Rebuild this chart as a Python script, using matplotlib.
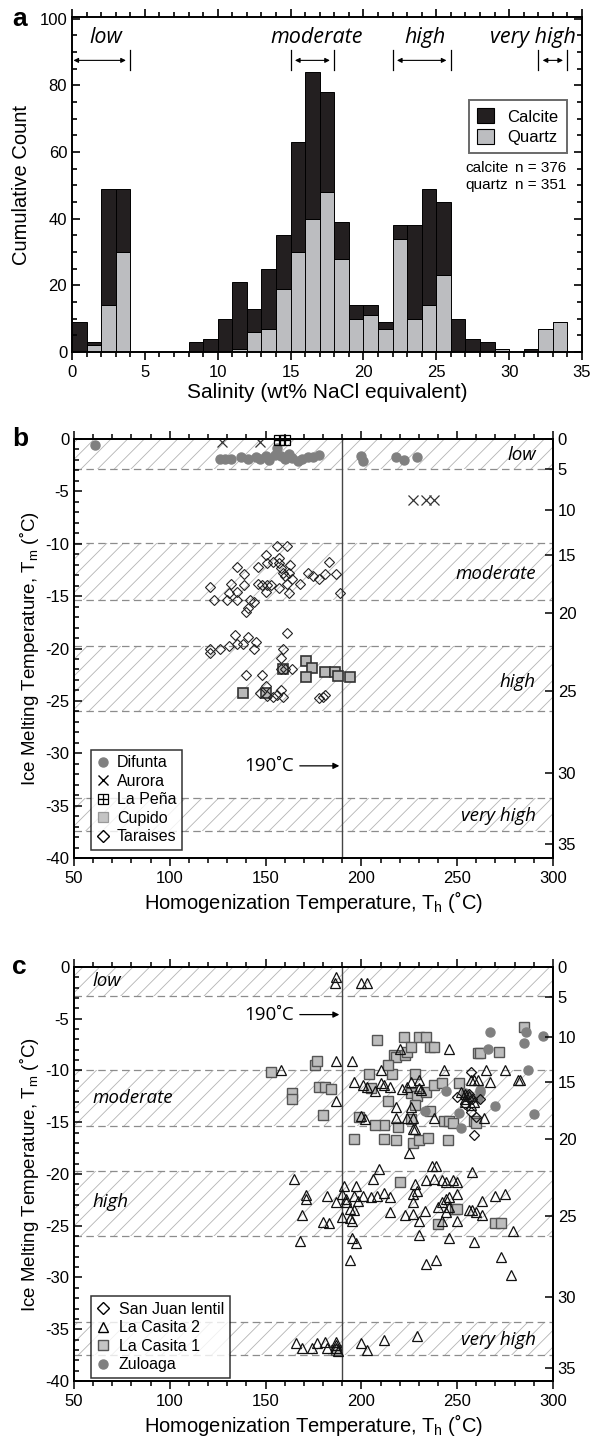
import numpy as np
import matplotlib
matplotlib.use("Agg")
import matplotlib.pyplot as plt
from matplotlib.patches import Patch
from matplotlib.lines import Line2D
from matplotlib.ticker import MultipleLocator

plt.rcParams['font.family'] = ['Liberation Sans', 'DejaVu Sans']
plt.rcParams['mathtext.fontset'] = 'custom'
plt.rcParams['mathtext.rm'] = 'Liberation Sans'
plt.rcParams['axes.unicode_minus'] = False
plt.rcParams['hatch.linewidth'] = 0.6

# ---- panel a: salinity histogram (1 wt% bins) ----
bin_left = np.arange(0, 34)
quartz = [0, 2, 14, 30, 0, 0, 0, 0, 0, 0, 0, 1, 6, 7, 19, 30, 40, 48, 28, 10,
          11, 7, 34, 10, 14, 23, 0, 0, 0, 1, 0, 0, 7, 9]
calcite = [9, 1, 35, 19, 0, 0, 0, 0, 3, 4, 10, 20, 7, 18, 16, 33, 44, 30, 11, 4,
           3, 2, 4, 28, 35, 22, 10, 4, 3, 0, 0, 1, 0, 0]
sal_classes = ['low', 'moderate', 'high', 'very high']
sal_ranges = [(0, 4), (15, 18), (22, 26), (32, 34)]

# ---- panel b: Th / Tm ----
difunta_th = [61, 126, 129, 132, 137, 141, 145, 147, 150, 152, 155, 156, 158, 160,
              162, 164, 167, 169, 172, 175, 178, 200, 201, 218, 222, 229]
difunta_tm = [-0.55, -1.9, -1.9, -1.9, -1.7, -1.9, -1.7, -1.9, -1.6, -2.0, -1.5, -0.9,
              -1.6, -1.9, -1.4, -1.8, -2.1, -1.9, -1.7, -1.7, -1.5, -1.65, -2.1, -1.7,
              -2.0, -1.7]
aurora_th = [127, 147, 227, 234, 238]
aurora_tm = [-0.3, -0.3, -5.86, -5.86, -5.86]
lapena_th = [157, 160]
lapena_tm = [-0.1, -0.1]
cupido_th = [138, 150, 159, 171, 174, 171, 181, 186, 188, 194]
cupido_tm = [-24.2, -24.2, -22.0, -21.2, -21.9, -22.7, -22.2, -22.2, -22.6, -22.7]
taraises_th = [156, 161, 150, 157, 146, 135, 139, 151, 154, 157, 158, 159, 160, 162,
               164, 161, 163, 172, 175, 178, 181, 183, 187, 189, 168, 146, 148, 151,
               153, 150, 132, 139, 135, 121, 123, 130, 131, 135, 142, 144, 140, 141,
               162, 157, 161, 134, 141, 135, 138, 131, 145, 144, 126, 121, 121, 159,
               158, 140, 148, 158, 160, 164, 147, 151, 154, 156, 159, 158, 178, 181,
               180, 150]
taraises_tm = [-10.2, -10.2, -11.05, -11.4, -12.2, -12.2, -12.9, -11.8, -11.7, -11.8,
               -12.3, -12.8, -13.1, -12.8, -13.4, -13.8, -12.0, -12.8, -13.1, -13.4,
               -12.9, -11.7, -12.9, -14.7, -13.8, -13.8, -13.9, -13.9, -13.9, -14.6,
               -13.8, -13.9, -14.6, -14.1, -15.4, -15.4, -14.7, -15.4, -15.4, -15.6,
               -16.5, -16.1, -14.7, -14.2, -18.5, -18.7, -18.9, -19.6, -19.6, -19.8,
               -19.4, -20.0, -20.0, -20.0, -20.4, -20.0, -20.9, -22.5, -22.5, -22.0,
               -22.0, -22.0, -24.2, -24.5, -24.6, -24.4, -24.6, -24.0, -24.7, -24.4,
               -24.6, -23.6]

# ---- panel c ----
casita2_th = [187, 186, 200, 203, 158, 187, 195, 187, 220, 246, 210, 230, 243, 265, 275,
              196, 201, 203, 207, 210, 212, 215, 221, 224, 230, 231, 226, 257, 259, 261,
              267, 282, 283, 252, 254, 254, 256, 259, 254, 257, 218, 226, 218, 227, 224,
              200, 202, 238, 264, 227, 228, 225, 237, 239, 209, 258,
              165, 191, 197, 206, 234, 238, 242, 244, 248, 250, 228, 229, 227, 171, 171,
              182, 190, 192, 196, 198, 201, 205, 208, 212, 215, 244, 242, 246, 250, 270,
              275, 263, 187, 192, 227, 240, 246, 194, 196, 215, 223, 227, 233, 244, 256,
              258, 260, 263, 169, 190, 194, 195, 230, 242, 250, 180, 183, 279, 230, 246,
              195, 197, 168, 259, 194, 239, 273, 234, 278,
              166, 169, 174, 177, 181, 182, 187, 187, 187, 188, 200, 203, 212, 229]
casita2_tm = [-1.0, -1.5, -1.5, -1.5, -10.0, -9.1, -9.1, -12.9, -7.9, -7.9, -10.0, -10.9,
              -10.0, -10.0, -10.0, -11.1, -11.4, -11.6, -12.0, -11.2, -11.4, -11.6, -11.8,
              -11.6, -11.7, -11.9, -11.1, -10.9, -10.9, -10.9, -11.1, -10.9, -10.9, -12.1,
              -12.3, -12.8, -12.5, -13.0, -13.0, -13.3, -13.5, -13.5, -14.6, -14.6, -14.6,
              -14.4, -14.7, -14.6, -14.6, -15.7, -15.7, -18.0, -19.2, -19.2, -19.5, -19.8,
              -20.5, -21.2, -21.2, -20.5, -20.6, -20.5, -20.6, -20.8, -20.6, -20.8, -21.0,
              -21.6, -21.9, -22.0, -22.4, -22.1, -21.9, -22.4, -22.1, -22.6, -22.1, -22.2,
              -22.1, -21.8, -22.2, -22.4, -22.7, -22.2, -21.9, -22.1, -21.9, -22.6, -22.7,
              -22.7, -22.7, -23.2, -23.2, -23.4, -23.5, -23.7, -24.0, -23.9, -23.6, -23.7,
              -23.5, -23.5, -23.7, -24.0, -24.0, -24.2, -24.3, -24.5, -24.5, -24.5, -24.5,
              -24.6, -24.7, -25.5, -25.9, -26.2, -26.2, -26.7, -26.5, -26.6, -28.3, -28.3,
              -28.0, -28.7, -29.8,
              -36.3, -36.8, -36.8, -36.3, -36.2, -36.8, -36.2, -36.5, -36.8, -37.1, -36.3,
              -37.0, -36.0, -35.7]
casita1_th = [153, 164, 164, 176, 177, 178, 181, 184, 180, 196, 199, 204, 205, 208, 214,
              212, 207, 216, 217, 218, 214, 219, 212, 218, 222, 223, 224, 226, 226, 228,
              229, 230, 234, 236, 238, 234, 228, 226, 227, 230, 235, 236, 238, 242, 243,
              245, 246, 248, 251, 261, 262, 272, 285, 259, 260, 220, 240, 249, 250, 270,
              273, 187]
casita1_tm = [-10.1, -12.2, -12.8, -9.5, -9.1, -11.6, -11.6, -11.8, -14.3, -16.6, -14.5,
              -10.3, -11.7, -7.1, -12.9, -15.3, -15.3, -10.3, -8.5, -8.7, -9.5, -15.5,
              -16.6, -16.7, -6.8, -8.5, -8.2, -7.7, -12.2, -10.3, -12.5, -6.8, -6.8, -7.7,
              -7.7, -12.1, -13.3, -14.7, -17.0, -16.7, -16.5, -13.9, -11.4, -11.2, -14.9,
              -16.7, -14.9, -15.1, -11.2, -8.3, -8.3, -8.2, -5.8, -14.9, -15.1, -20.8,
              -24.8, -23.4, -23.4, -24.7, -24.7, -37.0]
zuloaga_th = [233, 244, 252, 251, 254, 256, 262, 262, 266, 267, 270, 285, 286, 287, 290,
              295, 261]
zuloaga_tm = [-13.9, -12.0, -15.6, -14.1, -12.2, -12.5, -12.1, -11.9, -7.9, -6.3, -13.4,
              -7.3, -6.3, -10.0, -14.2, -6.7, -12.7]
sanjuan_th = [257, 250, 254, 257, 260, 259, 256, 262, 258]
sanjuan_tm = [-10.1, -12.6, -13.2, -14.0, -14.5, -16.2, -12.3, -12.8, -12.8]

# salinity bands on the Tm axis and the salinity scale (right axis)
tm_bands = [(-2.85, 0), (-15.35, -9.95), (-26.0, -19.75), (-37.45, -34.3)]
sal_ticks = [0, 5, 10, 15, 20, 25, 30, 35]
sal_ticks_tm = [0, -2.9, -6.75, -11.1, -16.6, -24.1, -31.9, -38.7]

BLACK = '#231f20'
GRAY = '#bcbdc0'

fig = plt.figure(figsize=(5.92, 14.45), dpi=100)

# ================= panel a =================
ax = fig.add_axes([0.1216, 0.7564, 0.8615, 0.2318])
ax.bar(bin_left, quartz, width=1, align='edge', color=GRAY, edgecolor='k', lw=0.7)
ax.bar(bin_left, calcite, width=1, align='edge', bottom=quartz, color=BLACK,
       edgecolor='k', lw=0.7)
ax.set_xlim(0, 35)
ax.set_ylim(0, 100.5)
ax.xaxis.set_major_locator(MultipleLocator(5))
ax.xaxis.set_minor_locator(MultipleLocator(1))
ax.yaxis.set_major_locator(MultipleLocator(20))
ax.yaxis.set_minor_locator(MultipleLocator(5))
ax.tick_params(which='both', top=True, right=True, labelsize=12, width=1.2)
ax.tick_params(axis='x', which='both', direction='out')
ax.tick_params(axis='y', which='both', direction='in')
ax.tick_params(which='major', length=6)
ax.tick_params(which='minor', length=3.5)
for s in ax.spines.values():
    s.set_linewidth(1.4)
ax.set_xlabel('Salinity (wt% NaCl equivalent)', fontsize=15, labelpad=2)
ax.set_ylabel('Cumulative Count', fontsize=14.5, labelpad=6)

text_x = [2.3, 16.8, 24.2, 31.6]
for name, (x0, x1), tx in zip(sal_classes, sal_ranges, text_x):
    ax.text(tx, 94.5, name, style='italic', family='Open Sans', fontsize=15.5,
            ha='center', va='center')
    if x0 > 0:
        ax.plot([x0, x0], [84.6, 90.5], color='k', lw=0.9)
    ax.plot([x1, x1], [84.6, 90.5], color='k', lw=0.9)
    ax.annotate('', xy=(x1 - 0.3, 87.5), xytext=(x0 + (0.3 if x0 > 0 else 0.1), 87.5),
                arrowprops=dict(arrowstyle='<|-|>', lw=0.8, color='k',
                                mutation_scale=7, shrinkA=0, shrinkB=0))

leg = ax.legend([Patch(facecolor=BLACK, edgecolor='k', lw=0.8),
                 Patch(facecolor=GRAY, edgecolor='k', lw=0.8)],
                ['Calcite', 'Quartz'], loc='upper right',
                bbox_to_anchor=(0.97, 0.752), fontsize=12, fancybox=False,
                handlelength=1.0, handleheight=1.0, handletextpad=0.8,
                borderpad=0.5, labelspacing=0.25, borderaxespad=0)
leg.get_frame().set_edgecolor('#444444')
leg.get_frame().set_linewidth(1.4)
ax.text(0.772, 0.549, 'calcite', transform=ax.transAxes, fontsize=11, va='center')
ax.text(0.97, 0.549, 'n = 376', transform=ax.transAxes, fontsize=11, va='center',
        ha='right')
ax.text(0.772, 0.498, 'quartz', transform=ax.transAxes, fontsize=11, va='center')
ax.text(0.97, 0.498, 'n = 351', transform=ax.transAxes, fontsize=11, va='center',
        ha='right')
fig.text(0.02, 0.987, 'a', fontsize=19, fontweight='bold', va='center')


def th_tm_axes(rect, band_text, band_x, band_ha, arrow_y, letter):
    ax = fig.add_axes(rect)
    ax.set_xlim(50, 300)
    ax.set_ylim(-40, 0)
    for (lo, hi), name, bx, ha in zip(tm_bands, band_text, band_x, band_ha):
        ax.axhspan(lo, hi, facecolor='none', edgecolor='#b4b4b4', lw=0, hatch='//',
                   zorder=0)
        for yv in (lo, hi):
            if yv < 0:
                ax.axhline(yv, color='#8c8c8c', lw=0.9, dashes=(6, 3.5), zorder=1)
        ax.text(bx, name[1], name[0], style='italic', family='Open Sans',
                fontsize=13.5, ha=ha, va='center', zorder=5)
    ax.axvline(190, color='#444444', lw=1.0, zorder=1)
    ax.annotate('190˚C', xy=(188.5, arrow_y), xytext=(139, arrow_y),
                fontsize=13.5, va='center', ha='left', family='Open Sans',
                arrowprops=dict(arrowstyle='-|>', lw=0.9, color='k',
                                mutation_scale=9, shrinkA=2, shrinkB=0))
    ax.xaxis.set_major_locator(MultipleLocator(50))
    ax.xaxis.set_minor_locator(MultipleLocator(10))
    ax.yaxis.set_major_locator(MultipleLocator(5))
    ax.yaxis.set_minor_locator(MultipleLocator(1))
    ax.tick_params(which='both', top=True, labelsize=12, width=1.1)
    ax.tick_params(axis='x', which='both', direction='out')
    ax.tick_params(axis='y', which='both', direction='in')
    ax.tick_params(which='major', length=6)
    ax.tick_params(which='minor', length=3.5)
    for s in ax.spines.values():
        s.set_linewidth(1.3)
    ax.set_xlabel('Homogenization Temperature, T$_\\mathrm{h}$ (˚C)', fontsize=14.5,
                  labelpad=2)
    ax.set_ylabel('Ice Melting Temperature, T$_\\mathrm{m}$ (˚C)', fontsize=13.5,
                  labelpad=3)
    rax = ax.twinx()
    rax.set_ylim(-40, 0)
    rax.set_yticks(sal_ticks_tm)
    rax.set_yticklabels([str(v) for v in sal_ticks])
    rax.tick_params(direction='in', length=6, width=1.1, labelsize=12)
    for s in rax.spines.values():
        s.set_linewidth(1.3)
    top = rect[1] + rect[3]
    fig.text(0.02, top, letter, fontsize=19, fontweight='bold', va='center')
    return ax


# ================= panel b =================
axb = th_tm_axes([0.125, 0.4062, 0.809, 0.2900],
                 [('low', -1.5), ('moderate', -12.9), ('high', -23.2),
                  ('very high', -36.0)],
                 [291, 291, 291, 291], ['right'] * 4, -31.2, 'b')
axb.plot(difunta_th, difunta_tm, 'o', ms=6.5, mfc='#808080', mec='#808080', zorder=3)
axb.plot(aurora_th, aurora_tm, 'x', ms=7, mec='#333333', mew=0.9, zorder=3)
axb.plot(cupido_th, cupido_tm, 's', ms=7, mfc='#b8b8b8', mec='#333333', mew=1.2,
         zorder=3)
axb.plot(taraises_th, taraises_tm, 'D', ms=5.5, mfc='none', mec='#222222', mew=0.8,
         zorder=4)
axb.plot(lapena_th, lapena_tm, 's', ms=6.5, mfc='none', mec='k', mew=0.9, zorder=5,
         clip_on=False)
axb.plot(lapena_th, lapena_tm, '+', ms=6.5, mec='k', mew=0.9, zorder=5, clip_on=False)
hb = [Line2D([], [], ls='', marker='o', ms=6.5, mfc='#808080', mec='#808080'),
      Line2D([], [], ls='', marker='x', ms=7, mec='k', mew=1.0),
      (Line2D([], [], ls='', marker='s', ms=7, mfc='none', mec='k', mew=0.9),
       Line2D([], [], ls='', marker='+', ms=7, mec='k', mew=0.9)),
      Line2D([], [], ls='', marker='s', ms=7, mfc='#c4c4c4', mec='#999999', mew=0.9),
      Line2D([], [], ls='', marker='D', ms=6, mfc='none', mec='k', mew=1.0)]
lb = axb.legend(hb, ['Difunta', 'Aurora', 'La Peña', 'Cupido', 'Taraises'],
                loc='lower left', bbox_to_anchor=(0.035, 0.019), fontsize=11.5,
                fancybox=False, handlelength=0.8, handletextpad=0.5,
                borderpad=0.35, labelspacing=0.22, borderaxespad=0)
lb.get_frame().set_edgecolor('k')
lb.get_frame().set_linewidth(1.1)
lb.set_zorder(10)

# ================= panel c =================
axc = th_tm_axes([0.125, 0.0443, 0.809, 0.2865],
                 [('low', -1.4), ('moderate', -12.7), ('high', -22.7),
                  ('very high', -36.0)],
                 [59.5, 59.5, 59.5, 291], ['left', 'left', 'left', 'right'], -4.6, 'c')
axc.plot(casita1_th, casita1_tm, 's', ms=7.5, mfc='#bdbdbd', mec='#555555', mew=1.0,
         zorder=3)
axc.plot(zuloaga_th, zuloaga_tm, 'o', ms=6.5, mfc='#808080', mec='#808080', zorder=3)
axc.plot(casita2_th, casita2_tm, '^', ms=7.5, mfc='none', mec='#111111', mew=0.9,
         zorder=4)
axc.plot(sanjuan_th, sanjuan_tm, 'D', ms=5.5, mfc='none', mec='#111111', mew=0.9,
         zorder=4)
hc = [Line2D([], [], ls='', marker='D', ms=6, mfc='none', mec='k', mew=1.0),
      Line2D([], [], ls='', marker='^', ms=7.5, mfc='none', mec='k', mew=1.0),
      Line2D([], [], ls='', marker='s', ms=7.5, mfc='#c4c4c4', mec='#555555', mew=1.0),
      Line2D([], [], ls='', marker='o', ms=6.5, mfc='#808080', mec='#808080')]
lc = axc.legend(hc, ['San Juan lentil', 'La Casita 2', 'La Casita 1', 'Zuloaga'],
                loc='lower left', bbox_to_anchor=(0.035, 0.007), fontsize=11.5,
                fancybox=False, handlelength=0.8, handletextpad=0.6,
                borderpad=0.35, labelspacing=0.22, borderaxespad=0)
lc.get_frame().set_edgecolor('k')
lc.get_frame().set_linewidth(1.1)
lc.set_zorder(10)

fig.savefig('out.png', dpi=100)
